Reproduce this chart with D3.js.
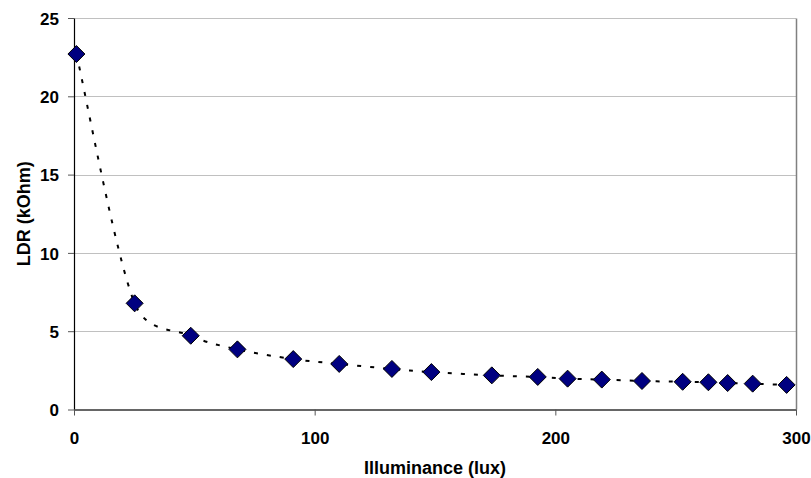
<!DOCTYPE html>
<html>
<head>
<meta charset="utf-8">
<script src="https://cdn.jsdelivr.net/npm/d3@7"></script>
<style>
  html, body { margin: 0; padding: 0; background: #fff; }
  svg { display: block; }
  text { font-family: "Liberation Sans", Arial, sans-serif; font-weight: bold; fill: #000; }
</style>
</head>
<body>
<svg id="chart" width="811" height="478"></svg>
<script>
// Data
const illuminance = [1, 25.2, 48.5, 67.9, 91.1, 110.2, 132.1, 148.5, 173.6, 192.7, 205.1, 219.3, 236.0, 252.9, 263.6, 271.6, 282.0, 296.1];
const ldr = [22.7, 6.78, 4.71, 3.84, 3.22, 2.91, 2.59, 2.39, 2.18, 2.08, 1.97, 1.91, 1.82, 1.77, 1.74, 1.69, 1.65, 1.57];
const xTicks = [0, 100, 200, 300];
const yTicks = [0, 5, 10, 15, 20, 25];
const xTitle = "Illuminance (lux)";
const yTitle = "LDR (kOhm)";

// Spreadsheet-style smoothing curve (Bezier, 1/6 tangents, arms capped at half segment)
function SmoothCurve(context) { this._context = context; }
SmoothCurve.prototype = {
  areaStart() {}, areaEnd() {},
  lineStart() { this._pts = []; },
  point(x, y) { this._pts.push([+x, +y]); },
  lineEnd() {
    const p = this._pts, n = p.length, c = this._context;
    if (!n) return;
    c.moveTo(p[0][0], p[0][1]);
    for (let i = 0; i < n - 1; i++) {
      const P0 = p[Math.max(i - 1, 0)], P1 = p[i], P2 = p[i + 1], P3 = p[Math.min(i + 2, n - 1)];
      const seg = Math.hypot(P2[0] - P1[0], P2[1] - P1[1]);
      let t1 = [(P2[0] - P0[0]) / 6, (P2[1] - P0[1]) / 6];
      let t2 = [(P3[0] - P1[0]) / 6, (P3[1] - P1[1]) / 6];
      const l1 = Math.hypot(t1[0], t1[1]), l2 = Math.hypot(t2[0], t2[1]);
      if (l1 > seg / 2) { const s = seg / 2 / l1; t1 = [t1[0] * s, t1[1] * s]; }
      if (l2 > seg / 2) { const s = seg / 2 / l2; t2 = [t2[0] * s, t2[1] * s]; }
      c.bezierCurveTo(P1[0] + t1[0], P1[1] + t1[1], P2[0] - t2[0], P2[1] - t2[1], P2[0], P2[1]);
    }
  }
};
const curveSmooth = ctx => new SmoothCurve(ctx);

(function () {
const svg = d3.select("#chart");
const pLeft = 74, pRight = 796, pTop = 18, pBottom = 409.5;

const x = d3.scaleLinear().domain([0, 300]).range([pLeft, pRight]);
const y = d3.scaleLinear().domain([0, 25]).range([pBottom, pTop]);

// gridlines
svg.append("g").selectAll("line").data(yTicks.filter(d => d > 0)).join("line")
  .attr("x1", pLeft).attr("x2", pRight)
  .attr("y1", d => Math.round(y(d)) + 0.5).attr("y2", d => Math.round(y(d)) + 0.5)
  .attr("stroke", "#c0c0c0").attr("stroke-width", 1);

// plot border (right side)
svg.append("line")
  .attr("x1", pRight + 0.5).attr("x2", pRight + 0.5)
  .attr("y1", Math.round(y(25)) + 0.5).attr("y2", pBottom)
  .attr("stroke", "#808080").attr("stroke-width", 1.5);

// y axis
const yAxis = svg.append("g").attr("transform", `translate(${pLeft},0)`)
  .call(d3.axisLeft(y).tickValues(yTicks).tickSize(6).tickPadding(9).tickSizeOuter(0));
yAxis.select(".domain").attr("stroke", "#000").attr("stroke-width", 1.2);
yAxis.selectAll(".tick line").attr("stroke", "#555");
yAxis.selectAll(".tick text").attr("font-size", 17).attr("dy", "0.36em")
  .style("font-family", '"Liberation Sans", Arial, sans-serif').style("font-weight", "bold");

// x axis
const xAxis = svg.append("g").attr("transform", `translate(0,${pBottom})`)
  .call(d3.axisBottom(x).tickValues(xTicks).tickSize(6).tickSizeOuter(0));
xAxis.select(".domain").attr("stroke", "#666").attr("stroke-width", 2);
xAxis.selectAll(".tick line").attr("stroke", "#555");
xAxis.selectAll(".tick text").attr("font-size", 17).attr("y", 34).attr("dy", 0)
  .style("font-family", '"Liberation Sans", Arial, sans-serif').style("font-weight", "bold");

// smoothed dotted line
const pts = illuminance.map((v, i) => [v, ldr[i]]);
const line = d3.line().x(d => x(d[0])).y(d => y(d[1])).curve(curveSmooth);
svg.append("path").datum(pts)
  .attr("d", line)
  .attr("fill", "none").attr("stroke", "#000").attr("stroke-width", 2)
  .attr("stroke-dasharray", "4,9");

// diamonds
const r = 8.5;
svg.append("g").selectAll("path").data(pts).join("path")
  .attr("transform", d => `translate(${x(d[0])},${y(d[1])})`)
  .attr("d", `M0,${-r}L${r},0L0,${r}L${-r},0Z`)
  .attr("fill", "#000080").attr("stroke", "#000").attr("stroke-width", 1);

// titles
svg.append("text").attr("x", (pLeft + pRight) / 2).attr("y", 474)
  .attr("text-anchor", "middle").attr("font-size", 18).text(xTitle);
svg.append("text")
  .attr("transform", `translate(29.5,${(pTop + pBottom) / 2}) rotate(-90)`)
  .attr("text-anchor", "middle").attr("font-size", 18).text(yTitle);
})();
</script>
</body>
</html>
